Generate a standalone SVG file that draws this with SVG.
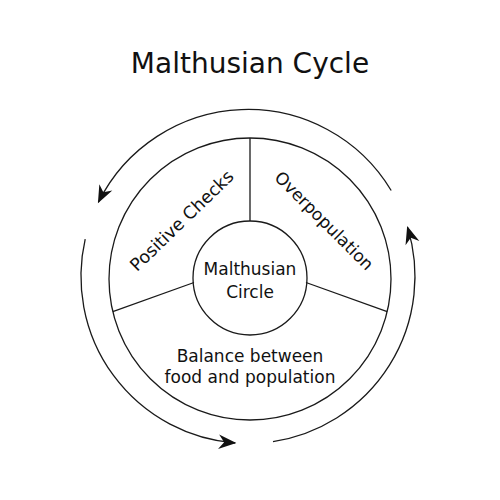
<svg xmlns="http://www.w3.org/2000/svg" width="500" height="500" viewBox="0 0 500 500">
  <style>
    .ln { fill: none; stroke: #1a1a1a; stroke-width: 1.3; }
    .txt { font-family: "DejaVu Sans", Verdana, sans-serif; fill: #111; text-anchor: middle; }
    .lbl { font-size: 17px; }
    .title { font-size: 28px; }
  </style>
  <defs>
    <marker id="arrow" markerUnits="userSpaceOnUse" markerWidth="20" markerHeight="20" refX="0" refY="0" viewBox="-16 -8 18 16" orient="auto" overflow="visible">
      <path d="M1,0 L-15,-6.5 L-10,0 L-15,6.5 Z" fill="#111"/>
    </marker>
  </defs>
  <rect width="500" height="500" fill="#ffffff"/>

  <text class="txt title" x="250" y="73">Malthusian Cycle</text>

  <g id="ring">
    <circle class="ln" cx="250" cy="279" r="141"/>
  </g>

  <g id="dividers" class="connectors">
    <line class="ln" x1="250" y1="138" x2="250" y2="221"/>
    <line class="ln" x1="112.8" y1="311.7" x2="194" y2="282.5"/>
    <line class="ln" x1="306" y1="282.5" x2="387.2" y2="311.7"/>
  </g>

  <g id="connectors">
    <path class="ln" d="M391.2,190.5 A167,167 0 0 0 98.4,202.3" marker-end="url(#arrow)"/>
    <path class="ln" d="M85.2,239.2 A167,167 0 0 0 235.2,443" marker-end="url(#arrow)"/>
    <path class="ln" d="M273,441.6 A167,167 0 0 0 407.5,227.1" marker-end="url(#arrow)"/>
  </g>

  <g id="node-center">
    <circle class="ln" cx="250" cy="278" r="57" fill="#fff"/>
    <text class="txt lbl" x="250" y="275">Malthusian</text>
    <text class="txt lbl" x="250" y="298">Circle</text>
  </g>

  <g id="node-positive-checks">
    <text class="txt lbl" x="186" y="225" transform="rotate(-44 186 225)" style="font-size:17.5px">Positive Checks</text>
  </g>

  <g id="node-overpopulation">
    <text class="txt lbl" x="320" y="225" transform="rotate(45 320 225)">Overpopulation</text>
  </g>

  <g id="node-balance">
    <text class="txt lbl" x="250" y="362">Balance between</text>
    <text class="txt lbl" x="250" y="383">food and population</text>
  </g>
</svg>
